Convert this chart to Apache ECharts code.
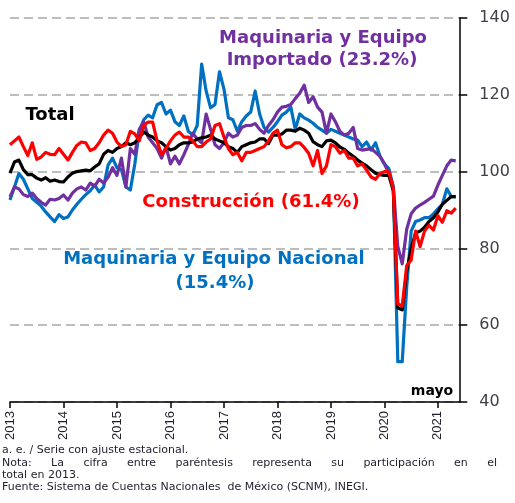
<!DOCTYPE html>
<html lang="es">
<head>
  <meta charset="UTF-8">
  <title>Inversión fija bruta</title>
  <style>
    html, body { margin: 0; padding: 0; background: #fff; }
    #chart { width: 515px; height: 503px; }
  </style>
  <script src="https://cdn.jsdelivr.net/npm/echarts@6.0.0/dist/echarts.min.js"></script>
</head>
<body>
  <div id="chart"></div>
  <script>
    // indices mensuales a. e., ene 2013 - may 2021
    const startYear = 2013;
    const yearTicks = [0, 12, 24, 36, 48, 60, 72, 84, 96];
    const yTicks = [40, 60, 80, 100, 120, 140];

    const total = [
      99.6, 102.5, 103, 100.5, 99.2, 99.2, 98.3, 97.8, 98.4, 97.5, 97.8, 97.4,
      97.3, 98.6, 99.6, 100, 100.2, 100.4, 100.2, 101.2, 102, 104.5, 105.5, 105,
      106, 106.5, 107.5, 107, 107.5, 108.8, 110.3, 109.5, 109, 108, 107.5, 106.5,
      105.6, 106, 107, 107.5, 107.5, 107.7, 108.5, 108.8, 109, 109.5, 108.5, 108,
      107.5, 106.5, 106, 105, 106.5, 107, 107.5, 107.7, 108.5, 108.5, 107.3, 109.5,
      109.5, 109.8, 110.8, 110.8, 110.5, 111.3, 110.8, 110, 107.8, 107, 106.5, 108,
      108.2, 107.5, 106.4, 105.8, 104.8, 104, 103, 102.2, 101.5, 100.5, 99.6, 99.2,
      99, 99, 95, 64.5, 64, 74, 80, 84, 84.5, 85.5, 87, 88,
      89.5, 91.5, 92.5, 93.5, 93.5
    ];
    const construccion = [
      107, 108, 109, 106.5, 104.2, 107.5, 103.2, 103.8, 105, 104.5, 104.4, 106,
      104.5, 103, 105, 106.8, 107.7, 107.5, 105.5, 106, 107.5, 109.5, 110.8, 110,
      107.7, 106.5, 107, 110.5, 109.8, 108, 112, 112.9, 112.9, 108, 104.4, 106,
      108, 109.5, 110.3, 109, 109, 108, 106.5, 106.5, 107.7, 108.5, 112, 112.5,
      109, 106, 104.4, 105, 102.8, 105, 105, 105.5, 106, 106.5, 108, 110,
      110.8, 107, 106.2, 106.5, 107.5, 107.5, 106.3, 104.8, 101.5, 105.5, 99.5, 101.5,
      107, 106.5, 104.8, 105.5, 103.5, 103.5, 101.5, 102, 100.4, 98.6, 98, 99.5,
      100, 100, 95.5, 65.5, 65, 75.5, 77, 84.5, 80.5, 84.5, 86, 84.8,
      88.5, 86.8, 89.8, 89.2, 90.5
    ];
    const nacional = [
      92.6, 96, 99.5, 98, 95.5, 93, 92, 91, 89.5, 88.2, 87, 88.8,
      87.8, 88.2, 90, 91.5, 92.8, 94, 95, 96.5, 94.7, 96, 101.7, 103.5,
      101, 100.5, 96, 95.2, 102, 110.5, 113.5, 114.7, 114, 117.4, 118, 115,
      116, 113, 112, 114.5, 110.5, 109.5, 112, 128, 121, 116.6, 117.5, 126,
      121.5, 114, 113.5, 110.5, 113, 114.5, 115.5, 121, 115, 111.5, 110.3, 111.5,
      113, 114.7, 115.5, 116.8, 111, 115, 114, 113.4, 112.6, 111.5, 110.8, 110,
      111, 110.5, 110, 109.5, 109, 108.5, 108.2, 106.5, 107.7, 105.6, 107.5, 104,
      102, 100.8, 96, 50.5, 50.5, 70, 84.5, 87, 87.4, 88, 88, 89,
      90.3, 91.5, 95.5, 93.5, 93.4
    ];
    const importado = [
      93.4, 96, 95.5, 94, 93.5, 94.4, 93, 92, 91.3, 92.8, 92.6, 93,
      93.9, 92.6, 94.4, 95.5, 96, 95.2, 97, 96.2, 98, 97, 98.5, 101,
      99, 103.5, 96, 106, 104.5, 111, 113, 109, 107.5, 106, 103.5, 106.5,
      102, 104, 102, 104.4, 107, 110, 108.5, 107.5, 115, 111, 107, 106,
      107.5, 110, 109, 109.5, 111.5, 112, 112, 112.5, 111, 110, 112, 113.5,
      115.5, 116.8, 117, 117.5, 119, 120.4, 122.5, 118, 119.5, 116.8, 115.5, 110,
      115, 113, 110.5, 109.5, 110, 111.5, 106, 105.6, 105.8, 106, 105, 104,
      102, 99.5, 96, 80.5, 76, 85, 89, 90.5, 91.3, 92, 92.8, 93.6,
      96.5, 99, 101.5, 103, 102.8
    ];

    const notas = [
      'a. e. / Serie con ajuste estacional.',
      'Nota: La cifra entre paréntesis representa su participación en el',
      'total en 2013.',
      'Fuente: Sistema de Cuentas Nacionales  de México (SCNM), INEGI.'
    ];

    function pares(arr) {
      return arr.map(function (v, i) { return [i, v]; });
    }

    function serie(nombre, datos, color) {
      return {
        name: nombre, type: 'line', data: pares(datos),
        showSymbol: false, symbol: 'none', silent: true,
        lineStyle: { color: color, width: 3.2, join: 'round' }
      };
    }

    // texto justificado: reparte el espacio sobrante entre palabras
    const noteSize = 11;
    const noteFamily = 'DejaVu Sans';
    const noteColor = '#1e1e2e';
    function justificado(texto, x0, x1, y) {
      const ctx = document.createElement('canvas').getContext('2d');
      ctx.font = noteSize + 'px "' + noteFamily + '"';
      const palabras = texto.split(' ');
      let ancho = 0;
      palabras.forEach(function (p) { ancho += ctx.measureText(p).width; });
      const hueco = (x1 - x0 - ancho) / (palabras.length - 1);
      let x = x0;
      return palabras.map(function (p) {
        const el = { type: 'text', x: x, y: y, silent: true,
          style: { text: p, fontSize: noteSize, fontFamily: noteFamily, fill: noteColor, verticalAlign: 'middle' } };
        x += ctx.measureText(p).width + hueco;
        return el;
      });
    }

    function etiqueta(texto, x, y, color, size) {
      return { type: 'text', x: x, y: y, silent: true,
        style: { text: texto, fill: color, font: 'bold ' + size + 'px "DejaVu Sans", sans-serif',
          align: 'center', verticalAlign: 'middle' } };
    }

    function nota(texto, y) {
      return { type: 'text', x: 2, y: y, silent: true,
        style: { text: texto, fontSize: noteSize, fontFamily: noteFamily, fill: noteColor, verticalAlign: 'middle' } };
    }

    const chart = echarts.init(document.getElementById('chart'));
    chart.setOption({
      animation: false,
      backgroundColor: '#fff',
      grid: { left: 10, top: 18, width: 449.3, height: 384 },
      xAxis: {
        type: 'value', min: 0, max: 100.8,
        axisLine: { onZero: false, lineStyle: { color: '#000', width: 1.5 } },
        axisTick: { customValues: yearTicks, length: 6, lineStyle: { color: '#000', width: 1.5 } },
        axisLabel: {
          customValues: yearTicks, rotate: 90, margin: 9, fontSize: 13, color: '#1e1e2e',
          formatter: function (v) { return String(startYear + v / 12); }
        },
        splitLine: { show: false }
      },
      yAxis: {
        type: 'value', position: 'right', min: yTicks[0], max: yTicks[yTicks.length - 1], interval: 20,
        axisLine: { show: true, onZero: false, lineStyle: { color: '#000', width: 1.5 } },
        axisTick: { show: true, length: 8, lineStyle: { color: '#000', width: 1.5 } },
        axisLabel: { margin: 20, fontFamily: 'DejaVu Sans', fontSize: 16, color: '#404048' },
        splitLine: { show: true, lineStyle: { color: '#a8a8a8', width: 1.5, type: [9, 5] } }
      },
      series: [
        serie('Maquinaria y Equipo Nacional', nacional, '#0070C0'),
        serie('Maquinaria y Equipo Importado', importado, '#7030A0'),
        serie('Total', total, '#000000'),
        serie('Construcción', construccion, '#FF0000')
      ],
      graphic: [
        etiqueta('Maquinaria y Equipo', 323, 38, '#7030A0', 18),
        etiqueta('Importado (23.2%)', 322, 60, '#7030A0', 18),
        etiqueta('Total', 50, 115, '#000', 18),
        etiqueta('Construcción (61.4%)', 251, 202, '#FF0000', 18),
        etiqueta('Maquinaria y Equipo Nacional', 214, 259, '#0070C0', 18),
        etiqueta('(15.4%)', 215, 283, '#0070C0', 18),
        etiqueta('mayo', 432, 391, '#000', 14),
        nota(notas[0], 450),
        nota(notas[2], 475),
        nota(notas[3], 487)
      ].concat(justificado(notas[1], 2, 497, 463))
    });
  </script>
</body>
</html>
